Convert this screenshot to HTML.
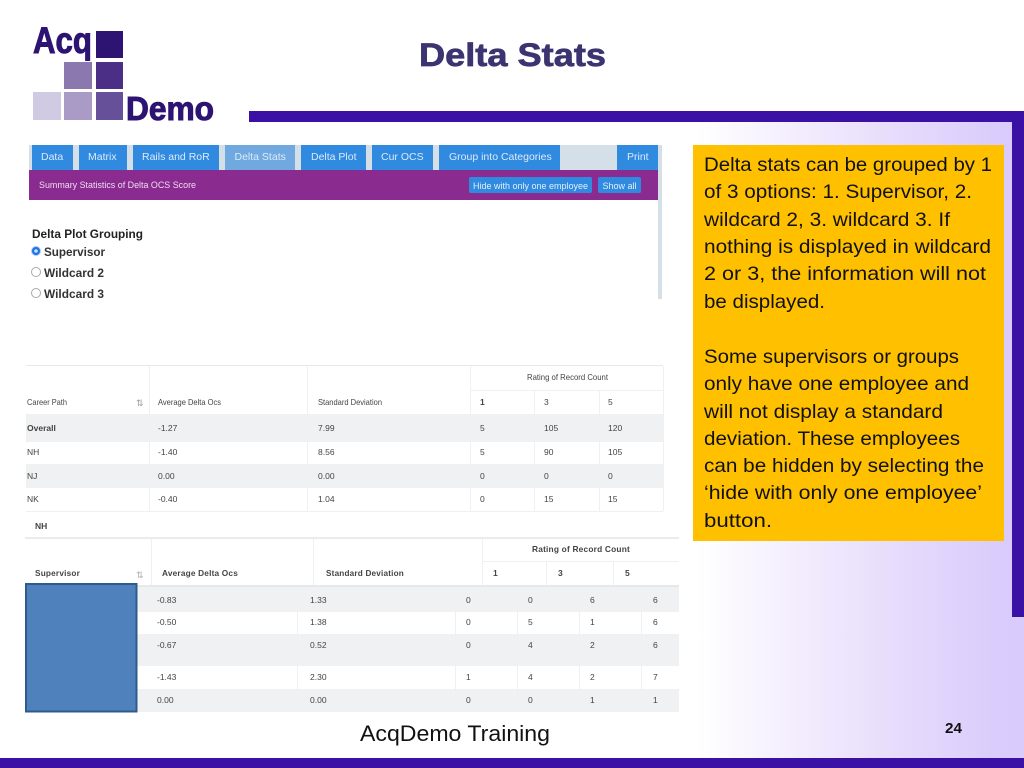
<!DOCTYPE html>
<html lang="en">
<head>
<meta charset="utf-8">
<title>Delta Stats</title>
<style>
html,body{margin:0;padding:0;width:1024px;height:768px;overflow:hidden;background:#fff}
svg{display:block;font-family:"Liberation Sans",sans-serif}
.shot{filter:blur(.35px)}
.t{font-size:8.5px;fill:#444}
.h{font-size:8.5px;fill:#444}
.h2{font-size:8.5px;fill:#444;font-weight:bold;letter-spacing:.2px}
.d{font-size:8.5px;fill:#444}
.b{font-size:19.5px;fill:#111}
.tab{font-size:10.5px;fill:#dcebfa}
.g{fill:#eff1f2}
.l{stroke:#eef0f1;stroke-width:1}
</style>
</head>
<body>
<svg width="1024" height="768" viewBox="0 0 1024 768">
<defs>
<linearGradient id="bg" x1="0" x2="1" y1="0" y2="0">
<stop offset="0" stop-color="#fff"/>
<stop offset=".68" stop-color="#fff"/>
<stop offset=".88" stop-color="#e6dbfc"/>
<stop offset=".98" stop-color="#d9cbfb"/>
<stop offset="1" stop-color="#d9cbfb"/>
</linearGradient>
</defs>
<rect x="0" y="122" width="1024" height="636" fill="url(#bg)"/>
<rect x="249" y="111" width="775" height="11" fill="#3a10a5"/>
<rect x="1012" y="111" width="12" height="506" fill="#3a10a5"/>
<rect x="0" y="758" width="1024" height="10" fill="#3a10a5"/>

<g>
<text x="33" y="53" font-size="37" font-weight="bold" fill="#2e1472" stroke="#2e1472" stroke-width="1" textLength="59" lengthAdjust="spacingAndGlyphs">Acq</text>
<rect x="96" y="31" width="27" height="27" fill="#2e1472"/>
<rect x="64" y="62" width="28" height="27" fill="#8a78ae"/>
<rect x="96" y="62" width="27" height="27" fill="#4b2f87"/>
<rect x="33" y="92" width="28" height="28" fill="#d0cbe2"/>
<rect x="64" y="92" width="28" height="28" fill="#a99bc6"/>
<rect x="96" y="92" width="27" height="28" fill="#67509a"/>
<text x="126" y="120" font-size="33" font-weight="bold" fill="#2e1472" stroke="#2e1472" stroke-width="1" textLength="88" lengthAdjust="spacingAndGlyphs">Demo</text>
</g>

<text x="419" y="66" font-size="32" font-weight="bold" fill="#3b3470" stroke="#3b3470" stroke-width=".7" textLength="187" lengthAdjust="spacingAndGlyphs">Delta Stats</text>

<g class="shot">
<rect x="29" y="145" width="633" height="25" fill="#d5dfe8"/>
<rect x="658" y="145" width="4" height="154" fill="#d5dfe8"/>
<g><rect x="32" y="145" width="41" height="25" fill="#2f8ae0"/><text class="tab" x="41" y="160">Data</text></g>
<g><rect x="79" y="145" width="48" height="25" fill="#2f8ae0"/><text class="tab" x="88" y="160">Matrix</text></g>
<g><rect x="133" y="145" width="86" height="25" fill="#2f8ae0"/><text class="tab" x="142" y="160">Rails and RoR</text></g>
<g><rect x="225" y="145" width="70" height="25" fill="#6fa9e0"/><text class="tab" x="234.500" y="160" fill="#c8dff5">Delta Stats</text></g>
<g><rect x="301" y="145" width="65" height="25" fill="#2f8ae0"/><text class="tab" x="311" y="160">Delta Plot</text></g>
<g><rect x="372" y="145" width="61" height="25" fill="#2f8ae0"/><text class="tab" x="381" y="160">Cur OCS</text></g>
<g><rect x="439" y="145" width="121" height="25" fill="#2f8ae0"/><text class="tab" x="449" y="160">Group into Categories</text></g>
<g><rect x="617" y="145" width="41" height="25" fill="#2f8ae0"/><text class="tab" x="627" y="160">Print</text></g>
<rect x="29" y="170" width="629" height="30" fill="#8a2b90"/>
<text x="39" y="188" font-size="9" fill="#eedcf0" textLength="157" lengthAdjust="spacingAndGlyphs">Summary Statistics of Delta OCS Score</text>
<g><rect x="469" y="177" width="123" height="16" rx="2" fill="#2f8ae0"/><text x="473" y="189" font-size="9.500" fill="#e3f0fc" textLength="115" lengthAdjust="spacingAndGlyphs">Hide with only one employee</text></g>
<g><rect x="598" y="177" width="43" height="16" rx="2" fill="#2f8ae0"/><text x="602.500" y="189" font-size="9.500" fill="#e3f0fc" textLength="34" lengthAdjust="spacingAndGlyphs">Show all</text></g>
<text x="32" y="238" font-size="12" font-weight="bold" fill="#222" textLength="111" lengthAdjust="spacingAndGlyphs">Delta Plot Grouping</text>
<g><circle cx="36" cy="251" r="4.500" fill="#1a73e8" stroke="#a9c9f2"/><circle cx="36" cy="251" r="1.800" fill="#cfe2fa"/><text x="44" y="256" font-size="12" font-weight="bold" fill="#333" textLength="61" lengthAdjust="spacingAndGlyphs">Supervisor</text></g>
<g><circle cx="36" cy="272" r="4.500" fill="#fff" stroke="#aaa"/><text x="44" y="277" font-size="12" font-weight="bold" fill="#333" textLength="60" lengthAdjust="spacingAndGlyphs">Wildcard 2</text></g>
<g><circle cx="36" cy="293" r="4.500" fill="#fff" stroke="#aaa"/><text x="44" y="298" font-size="12" font-weight="bold" fill="#333" textLength="60" lengthAdjust="spacingAndGlyphs">Wildcard 3</text></g>
</g>

<g class="shot">
<rect x="26" y="415" width="637" height="26" class="g"/>
<rect x="26" y="464" width="637" height="24" class="g"/>
<rect x="26" y="365" width="637" height="1" fill="#e6e8ea"/>
<line class="l" x1="470" x2="663" y1="390.500" y2="390.500"/>
<line class="l" x1="26" x2="663" y1="414.500" y2="414.500"/>
<line class="l" x1="26" x2="663" y1="441.500" y2="441.500"/>
<line class="l" x1="26" x2="663" y1="511.500" y2="511.500"/>
<line class="l" x1="149.500" x2="149.500" y1="366" y2="511"/>
<line class="l" x1="307.500" x2="307.500" y1="366" y2="511"/>
<line class="l" x1="470.500" x2="470.500" y1="366" y2="511"/>
<line class="l" x1="534.500" x2="534.500" y1="391" y2="511"/>
<line class="l" x1="599.500" x2="599.500" y1="391" y2="511"/>
<line class="l" x1="663.500" x2="663.500" y1="366" y2="511"/>
<text class="h" x="527" y="380" textLength="81" lengthAdjust="spacingAndGlyphs">Rating of Record Count</text>
<text class="h" x="27" y="405" textLength="40" lengthAdjust="spacingAndGlyphs">Career Path</text>
<text x="136" y="406" font-size="9" fill="#999">⇅</text>
<text class="h" x="158" y="405" textLength="63" lengthAdjust="spacingAndGlyphs">Average Delta Ocs</text>
<text class="h" x="318" y="405" textLength="64" lengthAdjust="spacingAndGlyphs">Standard Deviation</text>
<text class="h" x="480" y="405" font-weight="bold">1</text><text class="h" x="544" y="405">3</text><text class="h" x="608" y="405">5</text>
<text class="d" x="27" y="431" font-weight="bold">Overall</text><text class="d" x="158" y="431">-1.27</text><text class="d" x="318" y="431">7.99</text><text class="d" x="480" y="431">5</text><text class="d" x="544" y="431">105</text><text class="d" x="608" y="431">120</text>
<text class="d" x="27" y="455">NH</text><text class="d" x="158" y="455">-1.40</text><text class="d" x="318" y="455">8.56</text><text class="d" x="480" y="455">5</text><text class="d" x="544" y="455">90</text><text class="d" x="608" y="455">105</text>
<text class="d" x="27" y="479">NJ</text><text class="d" x="158" y="479">0.00</text><text class="d" x="318" y="479">0.00</text><text class="d" x="480" y="479">0</text><text class="d" x="544" y="479">0</text><text class="d" x="608" y="479">0</text>
<text class="d" x="27" y="502">NK</text><text class="d" x="158" y="502">-0.40</text><text class="d" x="318" y="502">1.04</text><text class="d" x="480" y="502">0</text><text class="d" x="544" y="502">15</text><text class="d" x="608" y="502">15</text>
<text class="h2" x="35" y="529" style="letter-spacing:0">NH</text>
</g>

<g class="shot">
<rect x="25" y="537" width="654" height="2" fill="#e9ebed"/>
<rect x="137" y="587" width="542" height="25" class="g"/>
<rect x="137" y="634" width="542" height="32" class="g"/>
<rect x="137" y="689" width="542" height="23" class="g"/>
<rect x="137" y="585" width="542" height="2" fill="#e6e8ea"/>
<line class="l" x1="482" x2="679" y1="561.500" y2="561.500"/>
<line class="l" x1="151.500" x2="151.500" y1="539" y2="585"/>
<line class="l" x1="313.500" x2="313.500" y1="539" y2="585"/>
<line class="l" x1="482.500" x2="482.500" y1="539" y2="585"/>
<line class="l" x1="546.500" x2="546.500" y1="562" y2="585"/>
<line class="l" x1="613.500" x2="613.500" y1="562" y2="585"/>
<line class="l" x1="297.500" x2="297.500" y1="612" y2="712"/>
<line class="l" x1="455.500" x2="455.500" y1="587" y2="712"/>
<line class="l" x1="517.500" x2="517.500" y1="587" y2="712"/>
<line class="l" x1="579.500" x2="579.500" y1="587" y2="712"/>
<line class="l" x1="641.500" x2="641.500" y1="587" y2="712"/>
<text class="h2" x="532" y="552" textLength="98" lengthAdjust="spacingAndGlyphs">Rating of Record Count</text>
<text class="h2" x="35" y="576" textLength="45" lengthAdjust="spacingAndGlyphs">Supervisor</text>
<text x="136" y="578" font-size="9" fill="#aaa">⇅</text>
<text class="h2" x="162" y="576" textLength="76" lengthAdjust="spacingAndGlyphs">Average Delta Ocs</text>
<text class="h2" x="326" y="576" textLength="78" lengthAdjust="spacingAndGlyphs">Standard Deviation</text>
<text class="h2" x="493" y="576">1</text><text class="h2" x="558" y="576">3</text><text class="h2" x="625" y="576">5</text>
<text class="d" x="157" y="603">-0.83</text><text class="d" x="310" y="603">1.33</text><text class="d" x="466" y="603">0</text><text class="d" x="528" y="603">0</text><text class="d" x="590" y="603">6</text><text class="d" x="653" y="603">6</text>
<text class="d" x="157" y="625">-0.50</text><text class="d" x="310" y="625">1.38</text><text class="d" x="466" y="625">0</text><text class="d" x="528" y="625">5</text><text class="d" x="590" y="625">1</text><text class="d" x="653" y="625">6</text>
<text class="d" x="157" y="648">-0.67</text><text class="d" x="310" y="648">0.52</text><text class="d" x="466" y="648">0</text><text class="d" x="528" y="648">4</text><text class="d" x="590" y="648">2</text><text class="d" x="653" y="648">6</text>
<text class="d" x="157" y="680">-1.43</text><text class="d" x="310" y="680">2.30</text><text class="d" x="466" y="680">1</text><text class="d" x="528" y="680">4</text><text class="d" x="590" y="680">2</text><text class="d" x="653" y="680">7</text>
<text class="d" x="157" y="703">0.00</text><text class="d" x="310" y="703">0.00</text><text class="d" x="466" y="703">0</text><text class="d" x="528" y="703">0</text><text class="d" x="590" y="703">1</text><text class="d" x="653" y="703">1</text>
</g>
<rect x="26" y="584" width="110.500" height="127.500" fill="#4f81bd" stroke="#2f5b8c" stroke-width="2"/>

<g>
<rect x="693" y="145" width="311" height="396" fill="#ffc000"/>
<text class="b" x="704" y="171" textLength="288" lengthAdjust="spacingAndGlyphs">Delta stats can be grouped by 1</text>
<text class="b" x="704" y="198" textLength="268" lengthAdjust="spacingAndGlyphs">of 3 options: 1. Supervisor, 2.</text>
<text class="b" x="704" y="226" textLength="246" lengthAdjust="spacingAndGlyphs">wildcard 2, 3. wildcard 3. If</text>
<text class="b" x="704" y="253" textLength="287" lengthAdjust="spacingAndGlyphs">nothing is displayed in wildcard</text>
<text class="b" x="704" y="280" textLength="282" lengthAdjust="spacingAndGlyphs">2 or 3, the information will not</text>
<text class="b" x="704" y="308" textLength="121" lengthAdjust="spacingAndGlyphs">be displayed.</text>
<text class="b" x="704" y="363" textLength="255" lengthAdjust="spacingAndGlyphs">Some supervisors or groups</text>
<text class="b" x="704" y="390" textLength="265" lengthAdjust="spacingAndGlyphs">only have one employee and</text>
<text class="b" x="704" y="418" textLength="239" lengthAdjust="spacingAndGlyphs">will not display a standard</text>
<text class="b" x="704" y="445" textLength="256" lengthAdjust="spacingAndGlyphs">deviation. These employees</text>
<text class="b" x="704" y="472" textLength="280" lengthAdjust="spacingAndGlyphs">can be hidden by selecting the</text>
<text class="b" x="704" y="499" textLength="278" lengthAdjust="spacingAndGlyphs">‘hide with only one employee’</text>
<text class="b" x="704" y="527" textLength="68" lengthAdjust="spacingAndGlyphs">button.</text>
</g>

<text x="360" y="741" font-size="22" fill="#111" textLength="190" lengthAdjust="spacingAndGlyphs">AcqDemo Training</text>
<text x="945" y="733" font-size="15" font-weight="bold" fill="#111" textLength="17" lengthAdjust="spacingAndGlyphs">24</text>
</svg>
</body>
</html>
